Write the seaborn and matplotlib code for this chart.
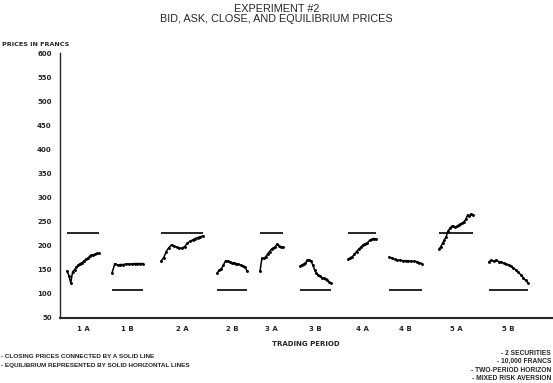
import pandas as pd
import seaborn as sns
import matplotlib.pyplot as plt

# trading periods and their closing-price paths (francs)
periods = ['1A', '1B', '2A', '2B', '3A', '3B', '4A', '4B', '5A', '5B']
p1a = [148, 138, 123, 146, 150, 156, 160, 163, 165, 168, 172, 174, 178, 180, 181, 183, 184, 184]
p1b = [143, 163, 160, 161, 161, 162, 162, 162, 163, 163, 163, 163]
p2a = [168, 175, 188, 196, 202, 199, 197, 195, 195, 198, 205, 209, 212, 215, 217, 219, 220]
p2b = [143, 149, 152, 160, 169, 168, 166, 165, 164, 163, 162, 160, 158, 156, 148]
p3a = [147, 174, 174, 177, 183, 188, 193, 195, 198, 204, 200, 197, 198]
p3b = [158, 160, 162, 164, 170, 170, 169, 160, 150, 143, 139, 137, 134, 132, 130, 128, 125, 122]
p4a = [172, 175, 177, 183, 188, 193, 197, 202, 204, 206, 211, 213, 215, 214]
p4b = [176, 175, 172, 170, 170, 169, 169, 169, 168, 168, 167, 165, 163]
p5a = [193, 198, 205, 212, 219, 230, 236, 240, 240, 239, 240, 243, 245, 247, 250, 255, 264, 261, 266, 263]
p5b = [167, 170, 168, 170, 167, 166, 164, 162, 160, 157, 154, 150, 145, 140, 134, 128, 123]
equilibrium = [226, 109, 226, 109, 226, 109, 226, 109, 226, 109]

paths = [p1a, p1b, p2a, p2b, p3a, p3b, p4a, p4b, p5a, p5b]
# horizontal span of each period on the time axis
span = [(7, 39), (52, 83), (101, 143), (157, 187), (200, 223),
        (240, 271), (288, 316), (329, 362), (379, 413), (429, 468)]

rows = []
for name, prices, (x0, x1) in zip(periods, paths, span):
    n = len(prices)
    for i, p in enumerate(prices):
        rows.append({'period': name, 'x': x0 + (x1 - x0) * i / (n - 1), 'price': p})
df = pd.DataFrame(rows)

sns.set_style('white')
plt.rcParams['font.family'] = ['DejaVu Sans']

fig = plt.figure(figsize=(5.53, 3.83), dpi=100)
ax = fig.add_axes([60 / 553, 1 - 318 / 383, 492 / 553, 265 / 383])

sns.lineplot(data=df, x='x', y='price', units='period', estimator=None,
             color='black', lw=1.1, marker='o', markersize=1.3, mec='black', ax=ax)
for (x0, x1), eq in zip(span, equilibrium):
    ax.hlines(eq, x0, x1, color='black', lw=1.2)

ax.set_xlim(0, 492)
ax.set_ylim(50, 600)
ax.set_yticks(range(50, 601, 50))
ax.set_xticks([(a + b) / 2 for a, b in span])
ax.set_xticklabels([p[0] + ' ' + p[1] for p in periods])
ax.tick_params(length=0, labelsize=5, pad=6)
for lab in ax.get_xticklabels() + ax.get_yticklabels():
    lab.set_fontweight('bold')
ax.set_xlabel('TRADING PERIOD', fontsize=5, fontweight='bold', labelpad=6)
ax.set_ylabel('')
sns.despine(ax=ax)
ax.spines['left'].set_linewidth(1.0)
ax.spines['bottom'].set_linewidth(1.5)

fig.text(0.5, 1 - 9 / 383, 'EXPERIMENT #2', ha='center', va='center', fontsize=7.8,
         family='Liberation Sans')
fig.text(0.5, 1 - 19.5 / 383, 'BID, ASK, CLOSE, AND EQUILIBRIUM PRICES', ha='center',
         va='center', fontsize=7.8, family='Liberation Sans')
fig.text(2 / 553, 1 - 45 / 383, 'PRICES IN FRANCS', ha='left', va='center', fontsize=4.6,
         fontweight='bold')

fig.text(1 / 553, 1 - 357 / 383, '- CLOSING PRICES CONNECTED BY A SOLID LINE',
         ha='left', va='center', fontsize=4.55, fontweight='bold', family='Liberation Sans')
fig.text(1 / 553, 1 - 366 / 383, '- EQUILIBRIUM REPRESENTED BY SOLID HORIZONTAL LINES',
         ha='left', va='center', fontsize=4.55, fontweight='bold', family='Liberation Sans')
notes = ['- 2 SECURITIES', '- 10,000 FRANCS', '- TWO-PERIOD HORIZON', '- MIXED RISK AVERSION']
for i, t in enumerate(notes):
    fig.text(551 / 553, 1 - (353.5 + 8.3 * i) / 383, t, ha='right', va='center',
             fontsize=4.8, fontweight='bold', family='Liberation Sans')

fig.savefig('out.png', dpi=100)
